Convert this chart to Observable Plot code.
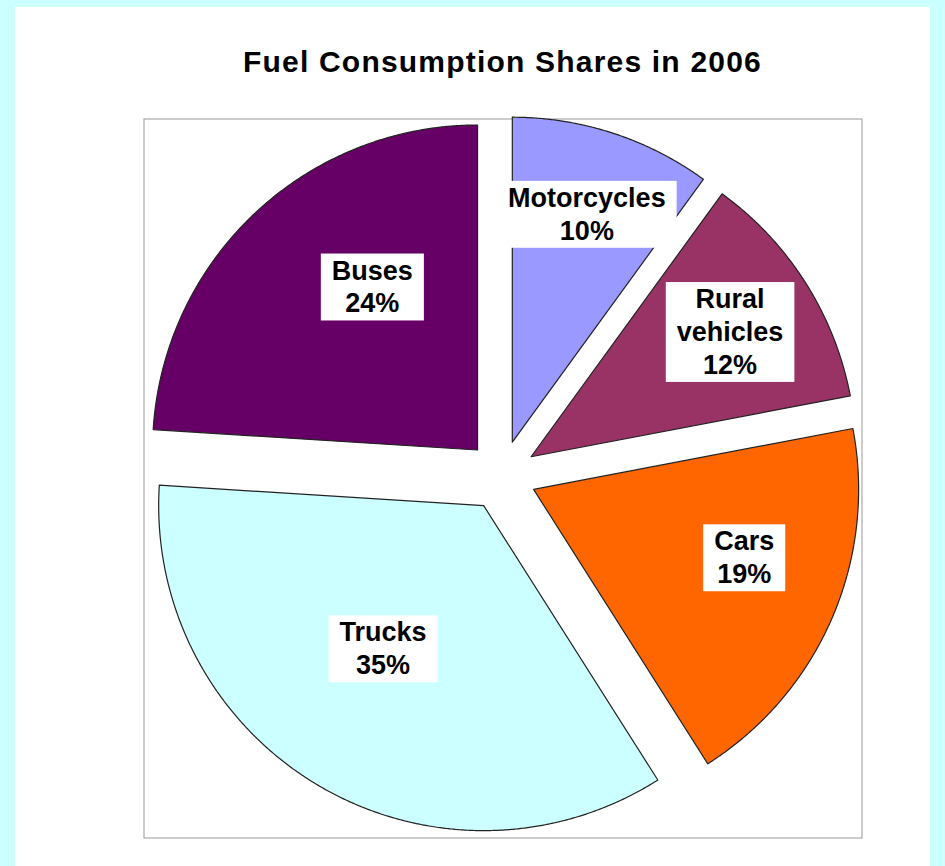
<!DOCTYPE html>
<html>
<head>
<meta charset="utf-8">
<script src="https://cdn.jsdelivr.net/npm/d3@7"></script>
<script src="https://cdn.jsdelivr.net/npm/@observablehq/plot@0.6"></script>
<style>
  html, body { margin: 0; padding: 0; }
  body { width: 945px; height: 866px; overflow: hidden; background: #ccffff; position: relative;
         font-family: "Liberation Sans", Arial, sans-serif; }
  #panel { position: absolute; left: 15px; top: 7px; width: 915px; height: 900px; background: #ffffff; }
  #title { position: absolute; left: 143px; width: 719px; top: 44px; line-height: 36px; text-align: center;
           font-size: 30px; font-weight: bold; color: #000; letter-spacing: 1.2px; }
  #chart { position: absolute; left: 143px; top: 118px; }
</style>
</head>
<body>
<div id="panel"></div>
<div id="title">Fuel Consumption Shares in 2006</div>
<div id="chart"></div>
<script>
// ---- data ----
const categories = ["Motorcycles", "Rural vehicles", "Cars", "Trucks", "Buses"];
const shares = [10, 12, 19, 35, 24];
const colors = ["#9999ff", "#993366", "#ff6600", "#ccffff", "#660066"];

// ---- layout (not data) ----
const W = 719, H = 720;          // svg size
const R = 325;                   // pie radius in px
const cx = 358, cy = 357;        // pie centre in svg px
const explode = 35 / R;          // explosion offset in radius units
// label placement: radial distance (radius units) and angular nudge (deg)
const labelPlacement = [
  {r: 0.85, da: 0}, {r: 0.833, da: 0}, {r: 0.787, da: -5}, {r: 0.642, da: 4}, {r: 0.707, da: 9}
];

const total = d3.sum(shares);
const slices = [];
let acc = 0;
categories.forEach((name, i) => {
  const a0 = acc / total * 2 * Math.PI;
  acc += shares[i];
  const a1 = acc / total * 2 * Math.PI;
  slices.push({name, value: shares[i], a0, a1, mid: (a0 + a1) / 2});
});

// polygon points of each exploded slice, in radius units (y up)
const pts = [];
for (const s of slices) {
  const ox = Math.sin(s.mid) * explode, oy = Math.cos(s.mid) * explode;
  pts.push({name: s.name, x: ox, y: oy});
  const n = Math.max(2, Math.ceil((s.a1 - s.a0) / 0.005));
  for (let k = 0; k <= n; k++) {
    const a = s.a0 + (s.a1 - s.a0) * k / n;
    pts.push({name: s.name, x: ox + Math.sin(a), y: oy + Math.cos(a)});
  }
}

const labels = slices.map((s, i) => {
  const p = labelPlacement[i];
  const a = s.mid + p.da * Math.PI / 180;
  return {name: s.name, x: Math.sin(a) * p.r, y: Math.cos(a) * p.r,
          text: s.name.replace(/ /g, "\n") + "\n" + s.value + "%"};
});

const chart = Plot.plot({
  width: W, height: H, margin: 0,
  style: {fontFamily: "'Liberation Sans', Arial, sans-serif", background: "transparent", overflow: "visible"},
  x: {domain: [-cx / R, (W - cx) / R], axis: null},
  y: {domain: [-(H - cy) / R, cy / R], axis: null},
  color: {domain: categories, range: colors},
  marks: [
    Plot.frame({stroke: "#999999", strokeWidth: 1, inset: 0.5}),
    Plot.line(pts, {x: "x", y: "y", z: "name", fill: "name", stroke: "#222222", strokeWidth: 1.2,
                    curve: "linear-closed"}),
    Plot.text(labels, {x: "x", y: "y", text: "text", fontSize: 27, fontWeight: "bold",
                       lineHeight: 1.22, fill: "#000000", className: "slice-label"})
  ]
});
document.getElementById("chart").appendChild(chart);

// white boxes behind the data labels
const svg = chart.tagName.toLowerCase() === "svg" ? chart : chart.querySelector("svg");
svg.querySelectorAll("g.slice-label text").forEach(t => {
  const b = t.getBBox();
  const r = document.createElementNS("http://www.w3.org/2000/svg", "rect");
  r.setAttribute("x", b.x - 11);
  r.setAttribute("y", b.y - 2);
  r.setAttribute("width", b.width + 22);
  r.setAttribute("height", b.height + 4);
  r.setAttribute("fill", "#ffffff");
  const tr = t.getAttribute("transform");
  if (tr) r.setAttribute("transform", tr);
  t.parentNode.insertBefore(r, t);
});
</script>
</body>
</html>
